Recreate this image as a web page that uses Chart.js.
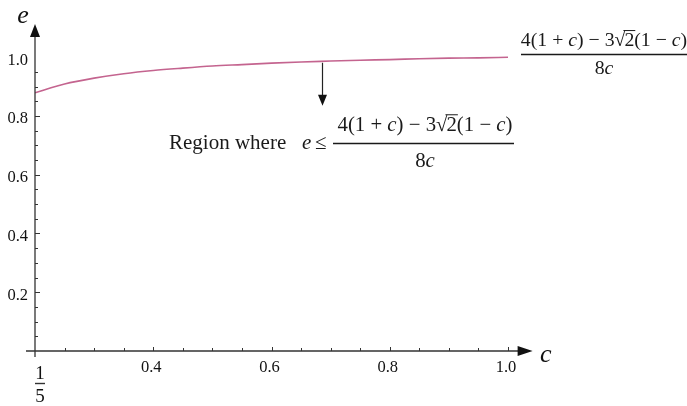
<!DOCTYPE html>
<html>
<head>
<meta charset="utf-8">
<script src="https://cdn.jsdelivr.net/npm/chart.js@4/dist/chart.umd.min.js"></script>
<style>
  html, body { margin: 0; padding: 0; background: #fff; }
  #wrap { width: 687px; height: 406px; }
</style>
</head>
<body>
<div id="wrap"><canvas id="chart" width="687" height="406"></canvas></div>
<script>
// values
const cValues = [0.2, 0.25, 0.3, 0.35, 0.4, 0.45, 0.5, 0.55, 0.6, 0.65, 0.7, 0.75, 0.8, 0.85, 0.9, 0.95, 1.0];
const eValues = [0.879, 0.909, 0.929, 0.944, 0.955, 0.963, 0.970, 0.975, 0.980, 0.984, 0.987, 0.990, 0.992, 0.995, 0.997, 0.998, 1.0];

const xTicks = [0.4, 0.6, 0.8, 1.0];
const xTickLabels = ['0.4', '0.6', '0.8', '1.0'];
const yTicks = [0.2, 0.4, 0.6, 0.8, 1.0];
const yTickLabels = ['0.2', '0.4', '0.6', '0.8', '1.0'];
const minorStep = 0.05;
const arrowAt = 0.685; // c where the "region" arrow leaves the curve

const serif = '"Liberation Serif", "DejaVu Serif", serif';
const lineColor = '#c4648f';

// draws a row of text pieces, some italic, one with a radical
function drawParts(ctx, parts, x, y, size, doDraw) {
    let cx = x;
    parts.forEach(p => {
        ctx.font = (p.i ? 'italic ' : '') + size + 'px ' + serif;
        const w = ctx.measureText(p.t).width;
        if (doDraw) {
            ctx.fillText(p.t, cx, y);
            if (p.over) {
                ctx.beginPath();
                ctx.lineWidth = 1;
                ctx.moveTo(cx - 1, y - size * 0.78);
                ctx.lineTo(cx + w + 1, y - size * 0.78);
                ctx.stroke();
            }
        }
        cx += w + (p.gap || 0);
    });
    return cx - x;
}

const numParts = [
    { t: '4(1 + ' }, { t: 'c', i: true }, { t: ') − 3' },
    { t: '√', gap: -1 }, { t: '2', over: true },
    { t: '(1 − ' }, { t: 'c', i: true }, { t: ')' }
];
const denParts = [{ t: '8' }, { t: 'c', i: true }];

function drawFraction(ctx, cx, numBase, barY, denBase, barX1, barX2, size) {
    const nw = drawParts(ctx, numParts, 0, 0, size, false);
    drawParts(ctx, numParts, cx - nw / 2, numBase, size, true);
    ctx.beginPath();
    ctx.lineWidth = 1.4;
    ctx.moveTo(barX1, barY);
    ctx.lineTo(barX2, barY);
    ctx.stroke();
    const dw = drawParts(ctx, denParts, 0, 0, size, false);
    drawParts(ctx, denParts, cx - dw / 2, denBase, size, true);
}

const axesPlugin = {
    id: 'axesPlugin',
    afterDraw(chart) {
        const ctx = chart.ctx;
        const xs = chart.scales.x;
        const ys = chart.scales.y;
        const x0 = xs.getPixelForValue(0.2);
        const y0 = ys.getPixelForValue(0);
        const xEnd = xs.right;
        const yEnd = ys.top;

        ctx.save();
        ctx.strokeStyle = '#333';
        ctx.fillStyle = '#111';
        ctx.lineWidth = 1.3;

        // axis lines
        ctx.beginPath();
        ctx.moveTo(x0 - 9, y0);
        ctx.lineTo(xEnd - 10, y0);
        ctx.moveTo(x0, y0 + 6);
        ctx.lineTo(x0, yEnd + 10);
        ctx.stroke();

        // arrow heads
        ctx.beginPath();
        ctx.moveTo(xEnd + 1, y0);
        ctx.lineTo(xEnd - 14, y0 - 5);
        ctx.lineTo(xEnd - 14, y0 + 5);
        ctx.closePath();
        ctx.fill();
        ctx.beginPath();
        ctx.moveTo(x0, yEnd + 2);
        ctx.lineTo(x0 - 5, yEnd + 15);
        ctx.lineTo(x0 + 5, yEnd + 15);
        ctx.closePath();
        ctx.fill();

        // minor + major ticks
        ctx.lineWidth = 1;
        ctx.beginPath();
        for (let k = 1; k < 20; k++) {
            const v = k * minorStep;
            const major = k % 4 === 0;
            const py = Math.round(ys.getPixelForValue(v)) + 0.5;
            ctx.moveTo(x0, py);
            ctx.lineTo(x0 + (major ? 5 : 3), py);
        }
        for (let k = 5; k <= 20; k++) {
            const v = k * minorStep;
            const major = k % 4 === 0;
            const px = Math.round(xs.getPixelForValue(v)) + 0.5;
            ctx.moveTo(px, y0);
            ctx.lineTo(px, y0 - (major ? 4 : 3));
        }
        ctx.stroke();

        // tick labels
        ctx.font = '16.5px ' + serif;
        ctx.fillStyle = '#111';
        ctx.textAlign = 'right';
        ctx.textBaseline = 'middle';
        yTicks.forEach((v, i) => {
            ctx.fillText(yTickLabels[i], x0 - 7, ys.getPixelForValue(v) + 3);
        });
        ctx.textAlign = 'center';
        xTicks.forEach((v, i) => {
            ctx.fillText(xTickLabels[i], xs.getPixelForValue(v) - 2, y0 + 17);
        });

        // 1/5 at the origin
        ctx.font = '19px ' + serif;
        ctx.fillText('1', x0 + 5, y0 + 23);
        ctx.beginPath();
        ctx.lineWidth = 1.4;
        ctx.moveTo(x0, y0 + 32.5);
        ctx.lineTo(x0 + 10, y0 + 32.5);
        ctx.stroke();
        ctx.fillText('5', x0 + 5, y0 + 46);

        // axis names
        ctx.font = 'italic 26px ' + serif;
        ctx.textBaseline = 'alphabetic';
        ctx.fillText('e', x0 - 12, 23);
        ctx.fillText('c', xEnd + 14, y0 + 11);

        // region arrow down from the curve
        const ax = Math.round(xs.getPixelForValue(arrowAt)) + 0.5;
        const ay = ys.getPixelForValue(0.988);
        ctx.strokeStyle = '#222';
        ctx.lineWidth = 1.2;
        ctx.beginPath();
        ctx.moveTo(ax, ay + 2);
        ctx.lineTo(ax, ay + 36);
        ctx.stroke();
        ctx.fillStyle = '#111';
        ctx.beginPath();
        ctx.moveTo(ax, ay + 45);
        ctx.lineTo(ax - 4.5, ay + 34);
        ctx.lineTo(ax + 4.5, ay + 34);
        ctx.closePath();
        ctx.fill();

        // "Region where e <= ..." text
        ctx.fillStyle = '#1a1a1a';
        ctx.strokeStyle = '#1a1a1a';
        ctx.textAlign = 'left';
        ctx.font = '21px ' + serif;
        ctx.fillText('Region where', 169, 149);
        ctx.font = 'italic 21px ' + serif;
        ctx.fillText('e', 302, 149);
        ctx.font = '21px ' + serif;
        ctx.fillText('≤', 315, 149);
        drawFraction(ctx, 425, 131, 143.5, 167, 333, 514, 20.8);

        // curve label on the right
        drawFraction(ctx, 604, 46, 54.5, 74, 521, 687, 19.8);

        ctx.restore();
    }
};

new Chart(document.getElementById('chart').getContext('2d'), {
    type: 'line',
    data: {
        datasets: [{
            data: cValues.map((c, i) => ({ x: c, y: eValues[i] })),
            borderColor: lineColor,
            borderWidth: 1.6,
            pointRadius: 0,
            fill: false,
            cubicInterpolationMode: 'monotone'
        }]
    },
    options: {
        responsive: false,
        animation: false,
        layout: { padding: { left: 35, right: 155.35, top: 22, bottom: 55 } },
        plugins: {
            legend: { display: false },
            tooltip: { enabled: false }
        },
        scales: {
            x: { type: 'linear', min: 0.2, max: 1.04, display: false },
            y: { type: 'linear', min: 0, max: 1.12, display: false }
        }
    },
    plugins: [axesPlugin]
});
</script>
</body>
</html>
